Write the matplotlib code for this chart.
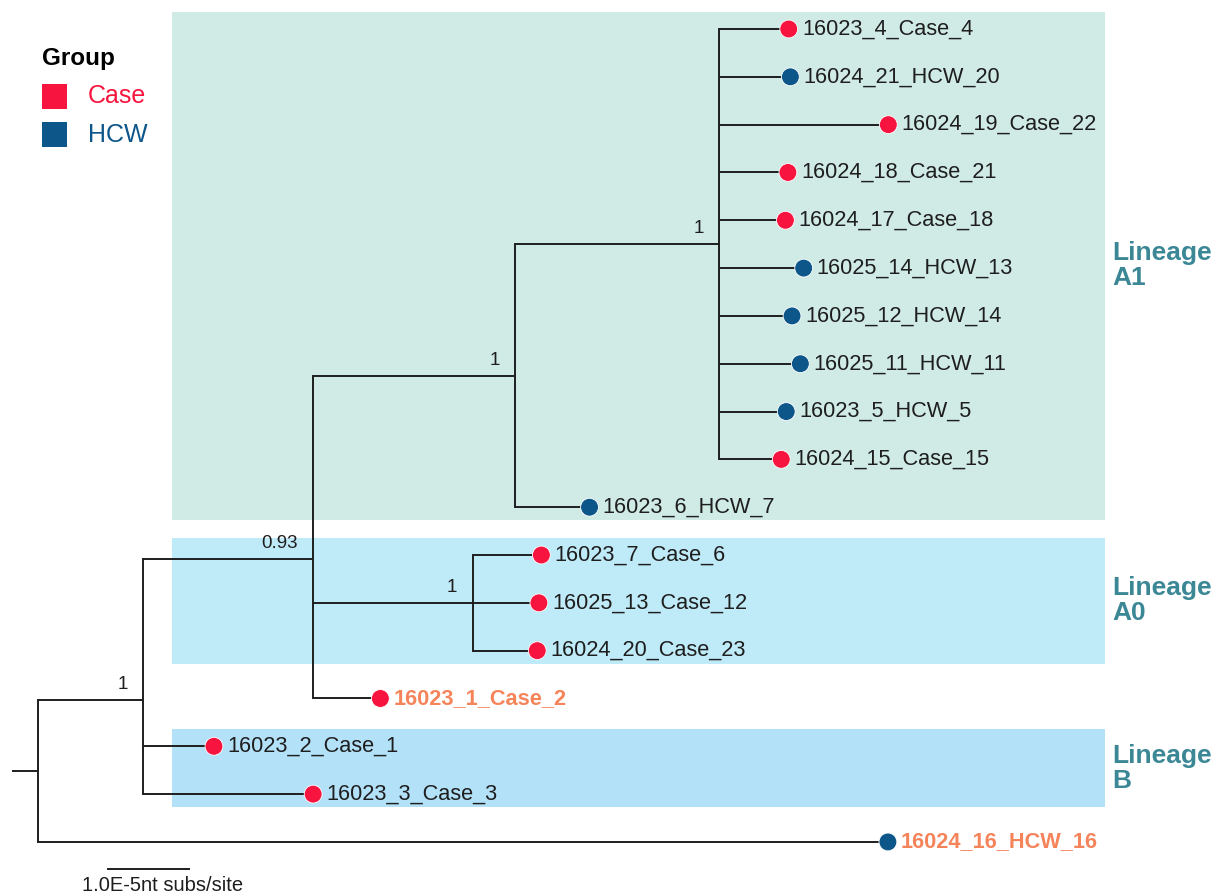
import matplotlib
matplotlib.use("Agg")
import matplotlib.pyplot as plt
from matplotlib.patches import Rectangle
import numpy as np

# ---------------- data ----------------
tip_labels = ["16023_4_Case_4", "16024_21_HCW_20", "16024_19_Case_22", "16024_18_Case_21",
              "16024_17_Case_18", "16025_14_HCW_13", "16025_12_HCW_14", "16025_11_HCW_11",
              "16023_5_HCW_5", "16024_15_Case_15", "16023_6_HCW_7", "16023_7_Case_6",
              "16025_13_Case_12", "16024_20_Case_23", "16023_1_Case_2", "16023_2_Case_1",
              "16023_3_Case_3", "16024_16_HCW_16"]
tip_groups = ["Case", "HCW", "Case", "Case", "Case", "HCW", "HCW", "HCW", "HCW", "Case",
              "HCW", "Case", "Case", "Case", "Case", "Case", "Case", "HCW"]
# branch lengths in units of 1.0E-5 nt subs/site
tip_branch = [0.84, 0.86, 2.04, 0.83, 0.80, 1.02, 0.88, 0.98, 0.81, 0.75,
              0.90, 0.83, 0.80, 0.78, 0.81, 0.855, 2.05, 10.24]
tip_parent = ["nA1"] * 10 + ["nA1a"] + ["nA0"] * 3 + ["n093", "n1", "n1", "root"]
highlighted = ["16023_1_Case_2", "16024_16_HCW_16"]

node_names = ["root", "n1", "n093", "nA1a", "nA1", "nA0"]
node_parent = [None, "root", "n1", "n093", "nA1a", "n093"]
node_branch = [0.31, 1.265, 2.05, 2.43, 2.46, 1.92]
node_support = ["", "1", "0.93", "1", "1", "1"]

lineages = ["Lineage\nA1", "Lineage\nA0", "Lineage\nB"]
lineage_tips = [(0, 10), (11, 13), (15, 16)]
lineage_colors = ["#d0ebe6", "#bfeaf7", "#b3e1f8"]

group_names = ["Case", "HCW"]
group_colors = {"Case": "#f7153f", "HCW": "#0d5689"}
scale_label = "1.0E-5nt subs/site"

# ---------------- layout ----------------
FONT = "Liberation Sans"
HL_COLOR = "#f5845a"
LIN_TEXT = "#3b8796"
LINE_C = "#1e1e1e"

fig = plt.figure(figsize=(12.2, 8.94), dpi=100)
ax = fig.add_axes([0, 0, 1, 1])
px_per_unit = 83.0
row_px = 47.82
ax.set_xlim(-38 / px_per_unit, (1220 - 38) / px_per_unit)
ax.set_ylim((894 - 29) / row_px, -29 / row_px)
ax.axis("off")

# compute node x positions
node_x = {}
def get_x(name):
    if name in node_x:
        return node_x[name]
    i = node_names.index(name)
    p = node_parent[i]
    x = 0.0 if p is None else get_x(p) + node_branch[i]
    node_x[name] = x
    return x
for n in node_names:
    get_x(n)

tip_x = [node_x[p] + b for p, b in zip(tip_parent, tip_branch)]
tip_y = list(range(len(tip_labels)))

# children lists
children = {n: [] for n in node_names}
for i, p in enumerate(tip_parent):
    children[p].append(("tip", i))
for n, p in zip(node_names, node_parent):
    if p is not None:
        children[p].append(("node", n))

node_y = {}
def get_y(name):
    if name in node_y:
        return node_y[name]
    ys = []
    for kind, c in children[name]:
        ys.append(tip_y[c] if kind == "tip" else get_y(c))
    node_y[name] = float(np.mean(ys))
    return node_y[name]
for n in node_names:
    get_y(n)

def child_y(kind, c):
    return tip_y[c] if kind == "tip" else node_y[c]

# shaded lineage boxes
x0 = (172 - 38) / px_per_unit
x1 = (1105 - 38) / px_per_unit
for (a, b), col, lab in zip(lineage_tips, lineage_colors, lineages):
    y0 = a - 0.36
    y1 = b + 0.27
    ax.add_patch(Rectangle((x0, y0), x1 - x0, y1 - y0, facecolor=col, edgecolor="none", zorder=0))
    ax.text((1112 - 38) / px_per_unit, (y0 + y1) / 2, lab, ha="left", va="center",
            fontsize=19, fontweight="bold", color=LIN_TEXT, family=FONT, linespacing=1.05)

lw = 1.4
# root stem
ax.plot([-node_branch[0], 0], [node_y["root"]] * 2, color=LINE_C, lw=lw, solid_capstyle="butt")
# internal branches
for n, p in zip(node_names, node_parent):
    ys = [child_y(k, c) for k, c in children[n]]
    ax.plot([node_x[n]] * 2, [min(ys), max(ys)], color=LINE_C, lw=lw, solid_capstyle="projecting")
    if p is not None:
        ax.plot([node_x[p], node_x[n]], [node_y[n]] * 2, color=LINE_C, lw=lw, solid_capstyle="butt")
for i in range(len(tip_labels)):
    ax.plot([node_x[tip_parent[i]], tip_x[i]], [tip_y[i]] * 2, color=LINE_C, lw=lw,
            solid_capstyle="butt")

# support values
for n, s in zip(node_names, node_support):
    if s:
        ax.annotate(s, xy=(node_x[n], node_y[n]), xytext=(-11, 5), textcoords="offset points",
                    ha="right", va="bottom", fontsize=13.5, family=FONT, color="#1e1e1e")

# tips
ax.scatter(tip_x, tip_y, s=165, c=[group_colors[g] for g in tip_groups],
           edgecolors="white", linewidths=0.6, zorder=5)
for i, lab in enumerate(tip_labels):
    hl = lab in highlighted
    ax.annotate(lab, xy=(tip_x[i], tip_y[i]), xytext=(9.5, 0), textcoords="offset points",
                ha="left", va="center", fontsize=15.7, family=FONT,
                color=HL_COLOR if hl else "#1e1e1e", fontweight="bold" if hl else "normal")

# scale bar
sb_x = (107 - 38) / px_per_unit
sb_y = (869 - 29) / row_px
ax.plot([sb_x, sb_x + 1.0], [sb_y, sb_y], color=LINE_C, lw=lw, solid_capstyle="butt")
ax.text((82 - 38) / px_per_unit, (886 - 29) / row_px, scale_label, ha="left", va="center",
        fontsize=14.5, family=FONT, color="#1e1e1e")

# legend
W, H = 1220.0, 894.0
fig.text(42 / W, 1 - 58 / H, "Group", ha="left", va="center", fontsize=17.5,
         fontweight="bold", family=FONT, color="black")
for k, g in enumerate(group_names):
    cy = 96 + k * 38.5
    fig.patches.append(Rectangle((42 / W, 1 - (cy + 12.5) / H), 25 / W, 25 / H,
                                 transform=fig.transFigure, facecolor=group_colors[g],
                                 edgecolor="none"))
    fig.text(88 / W, 1 - cy / H, g, ha="left", va="center", fontsize=18, family=FONT,
             color=group_colors[g])

fig.savefig("out.png", dpi=100)
